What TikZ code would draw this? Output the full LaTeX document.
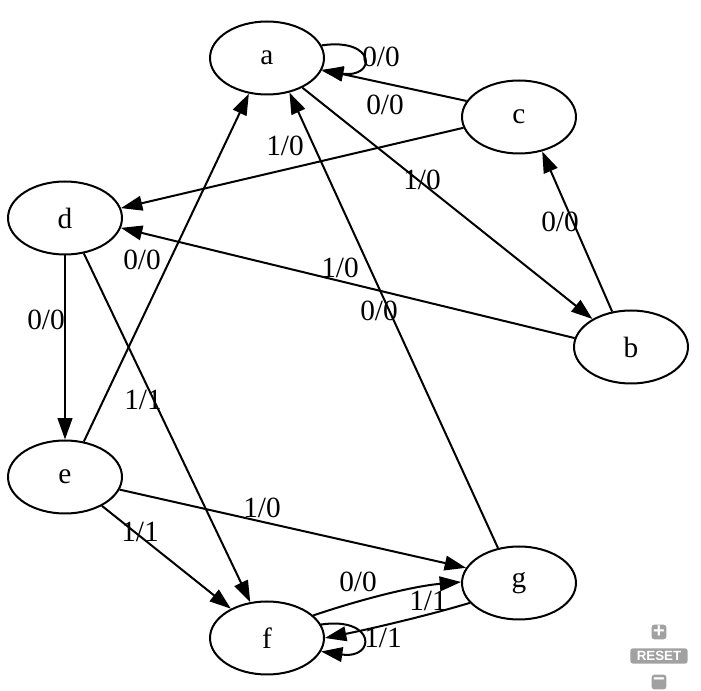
\documentclass[tikz,border=0pt]{standalone}
\usepackage{fontspec}
\setmainfont{Liberation Serif}
\newfontfamily\uifont{Liberation Sans}
\usetikzlibrary{shapes.geometric,arrows.meta}
\tikzset{state/.style={ellipse,draw,line width=1.5pt,minimum width=85.5pt,minimum height=54.75pt,inner sep=0pt,font=\fontsize{22}{26}\selectfont},
  lbl/.style={inner sep=0pt,font=\fontsize{22}{26}\selectfont},
  btn/.style={fill=black!37,rounded corners=2pt,inner sep=0pt,text=white,font=\uifont\bfseries\fontsize{10}{11}\selectfont}}

\begin{document}
\begin{tikzpicture}[x=0.75pt,y=-0.75pt,line width=1.5pt,>={Triangle[length=16pt,width=11pt]}]
    \useasboundingbox (0,0) rectangle (701,691);
    %states
    \node (a) at (267,58) [state]{a};
    \node (c) at (519,117) [state]{c};
    \node (d) at (65,218) [state]{d};
    \node (b) at (631,347) [state]{b};
    \node (e) at (65,477) [state]{e};
    \node (g) at (519,583) [state]{g};
    \node (f) at (267,638) [state]{f};

    %transitions
    \draw [->] (a.13) .. controls +(55,-8) and +(55,8) .. (a.-13);
    \draw [->] (c.163) -- (a.348);
    \draw [->] (c.191) -- (d.10);
    \draw [->] (a.320) -- (b.144);
    \draw [->] (b.118) -- (c.304);
    \draw [->] (b.171) -- (d.350);
    \draw [->] (g.121) -- (a.303);
    \draw [->] (e.62) -- (a.243);
    \draw [->] (d.270) -- (e.90);
    \draw [->] (d.298) -- (f.115);
    \draw [->] (e.347) -- (g.164);
    \draw [->] (e.322) -- (f.141);
    \draw [->] (f.26) .. controls (365,598) and (415,586) .. (g.179);
    \draw [->] (g.202) .. controls (430,615) and (370,629) .. (f.0);
    \draw [->] (f.14) .. controls +(55,-8) and +(55,8) .. (f.-14);

    %labels
    \node (laa) at (381,57) [lbl]{0/0};
    \node (lca) at (385,105) [lbl]{0/0};
    \node (lcd) at (285,146) [lbl]{1/0};
    \node (lab) at (422,180) [lbl]{1/0};
    \node (lbc) at (560,222) [lbl]{0/0};
    \node (lbd) at (340,268) [lbl]{1/0};
    \node (lga) at (379,311) [lbl]{0/0};
    \node (lea) at (142,260) [lbl]{0/0};
    \node (lde) at (46,320) [lbl]{0/0};
    \node (ldf) at (143,400) [lbl]{1/1};
    \node (leg) at (262,508) [lbl]{1/0};
    \node (lef) at (140,532) [lbl]{1/1};
    \node (lfg) at (358,582) [lbl]{0/0};
    \node (lgf) at (428,601) [lbl]{1/1};
    \node (lff) at (383,638) [lbl]{1/1};

    %zoom buttons
    \node (zin) at (659,632) [btn,minimum size=11pt,font=\uifont\bfseries\fontsize{15}{15}\selectfont]{+};
    \node (zreset) at (659,656) [btn,minimum width=43pt,minimum height=11.5pt]{RESET};
    \node (zout) at (659,682) [btn,minimum size=11pt,font=\uifont\bfseries\fontsize{15}{15}\selectfont]{−};
\end{tikzpicture}
\end{document}
